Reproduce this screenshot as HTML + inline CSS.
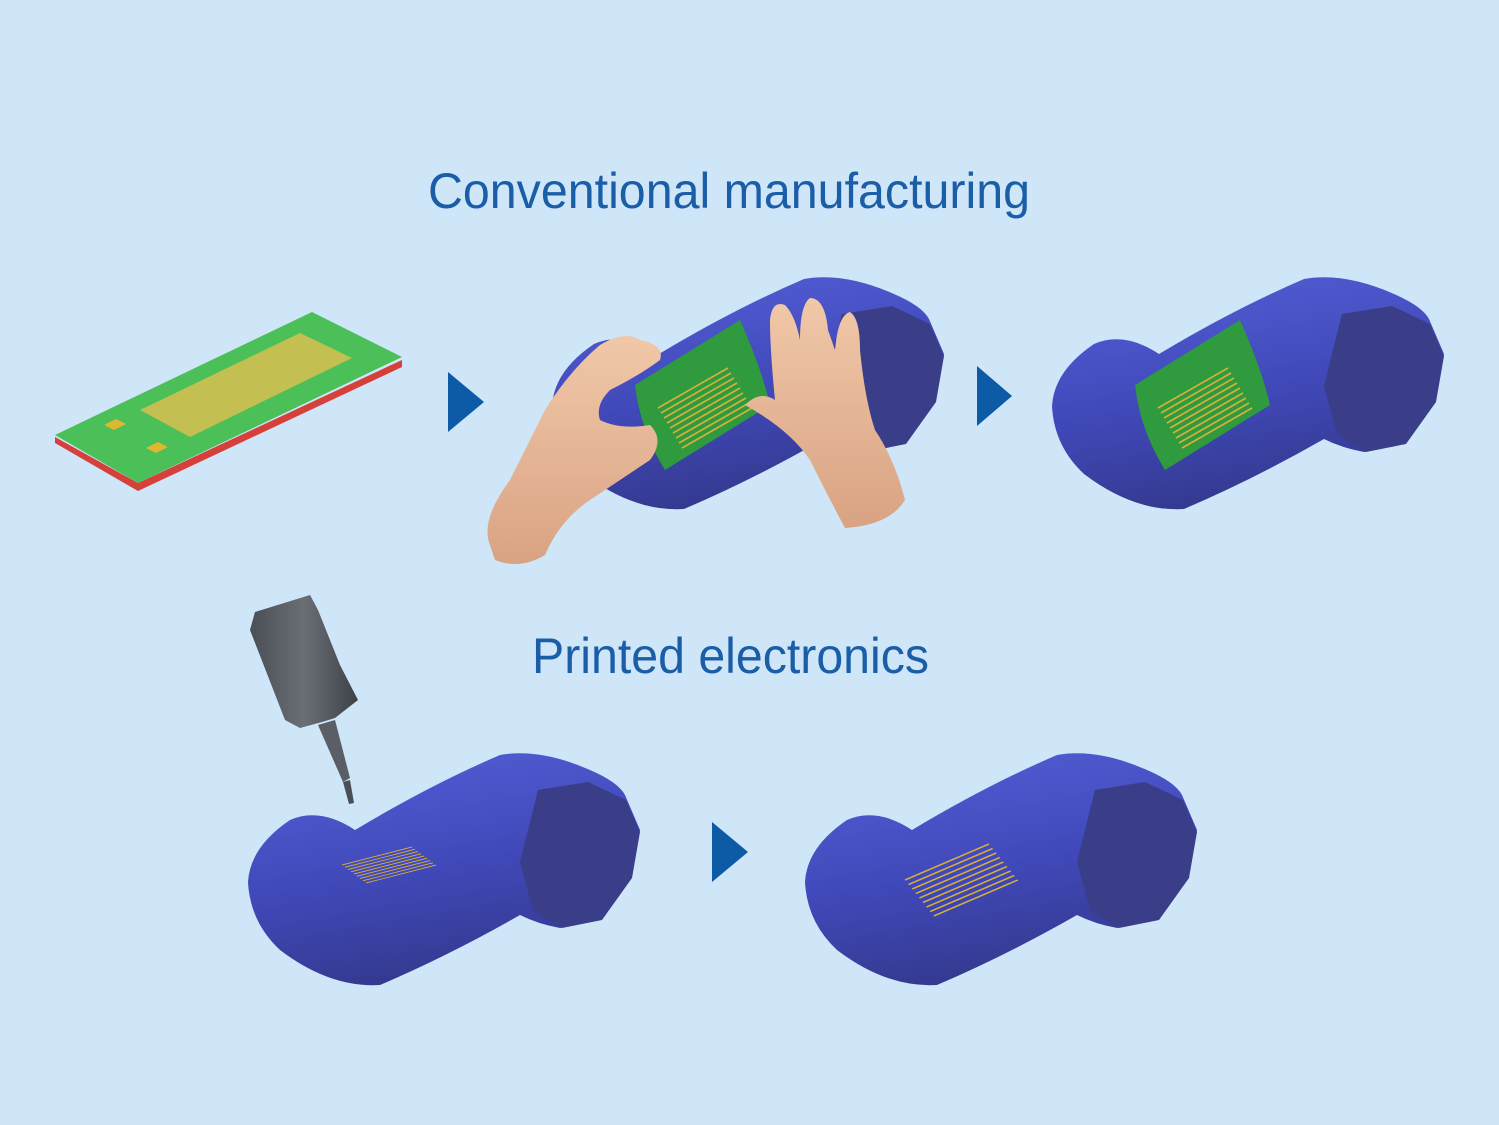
<!DOCTYPE html>
<html><head><meta charset="utf-8"><style>
html,body{margin:0;padding:0;background:#cfe5f8;}
svg{display:block}
</style></head><body>
<svg width="1499" height="1125" viewBox="0 0 1499 1125" xmlns="http://www.w3.org/2000/svg">
<defs>
<linearGradient id="pg" x1="0" y1="0" x2="0.3" y2="1">
<stop offset="0" stop-color="#5560d8"/><stop offset="0.6" stop-color="#4048b8"/><stop offset="1" stop-color="#343a90"/>
</linearGradient>
<linearGradient id="sk" x1="0" y1="0" x2="0" y2="1">
<stop offset="0" stop-color="#f0c8a8"/><stop offset="1" stop-color="#d9a383"/>
</linearGradient>
<linearGradient id="noz" x1="0" y1="0" x2="1" y2="0">
<stop offset="0" stop-color="#4a4e55"/><stop offset="0.5" stop-color="#6a6e75"/><stop offset="1" stop-color="#3e4248"/>
</linearGradient>
<g id="pipe">
<path d="M42,68 Q72,55 107,78 Q182,33 252,3 Q292,-4 342,18 Q370,30 377,43 L392,78 L382,128 L352,168 L312,176 Q290,172 272,163 Q202,203 132,233 Q82,236 32,198 Q2,170 0,130 Q2,95 42,68 Z" fill="url(#pg)"/>
<path d="M290,38 L340,30 L378,48 L392,80 L384,126 L354,168 L314,176 L285,158 L272,110 Z" fill="#3a3d88"/>
</g>
<g id="zz">
<path d="M0,0 l70,-40 M3,5 l70,-40 M6,10 l70,-40 M9,15 l70,-40 M12,20 l70,-40 M15,25 l70,-40 M18,30 l70,-40 M21,35 l70,-40 M24,40 l70,-40" stroke="#d8b03a" stroke-width="1.6" fill="none"/>
</g>
</defs>
<rect width="1499" height="1125" fill="#cfe5f8"/>

<text x="428" y="208" font-family="Liberation Sans, sans-serif" font-size="50" fill="#1a5ea8" textLength="602" lengthAdjust="spacingAndGlyphs">Conventional manufacturing</text>
<text x="532" y="673" font-family="Liberation Sans, sans-serif" font-size="50" fill="#1a5ea8" textLength="397" lengthAdjust="spacingAndGlyphs">Printed electronics</text>

<!-- board -->
<polygon points="55,437 138,483 402,360 402,367 138,491 55,443" fill="#d6403a"/>
<polygon points="55,435 312,312 402,357 138,483" fill="#4bbf58"/>
<polygon points="140,410 300,333 352,358 190,437" fill="#d8c050" opacity="0.85"/>
<polygon points="104,425 116,419 126,424 114,430" fill="#e0b830"/>
<polygon points="146,448 158,442 168,447 156,453" fill="#e0b830"/>

<!-- arrows -->
<polygon points="448,372 484,402 448,432" fill="#0d5aa6"/>
<polygon points="977,366 1012,396 977,426" fill="#0d5aa6"/>
<polygon points="712,822 748,852 712,882" fill="#0d5aa6"/>

<!-- top-right pipe -->
<use href="#pipe" x="1052" y="276"/>
<path d="M1135,385 L1240,320 Q1262,370 1270,405 L1165,470 Q1140,430 1135,385 Z" fill="#2f9a3e"/>
<use href="#zz" x="1158" y="408"/>

<!-- middle pipe -->
<use href="#pipe" x="552" y="276"/>
<path d="M635,385 L740,320 Q762,370 770,405 L665,470 Q640,430 635,385 Z" fill="#2f9a3e"/>
<use href="#zz" x="658" y="408"/>

<!-- left hand -->
<path d="M490,545 Q480,520 510,480 Q530,440 545,410 Q570,370 600,345 Q625,330 640,340 Q665,345 660,360 Q640,375 610,390 Q595,405 600,420 Q620,430 650,425 Q665,440 650,460 Q620,480 590,500 Q560,520 545,555 Q520,570 495,560 Z" fill="url(#sk)"/>
<!-- right hand -->
<path d="M745,405 Q760,390 775,400 Q770,350 770,320 Q772,300 785,305 Q795,315 800,340 Q800,305 810,298 Q825,298 828,330 L835,350 Q838,315 850,312 Q860,318 860,350 Q865,400 875,430 Q895,460 905,500 Q890,525 845,528 Q830,500 810,460 Q790,430 745,405 Z" fill="url(#sk)"/>

<!-- bottom pipes -->
<use href="#pipe" x="248" y="752"/>
<g transform="translate(342,865) scale(1,0.45)"><use href="#zz"/></g>
<use href="#pipe" x="805" y="752"/>
<g transform="translate(905,880) scale(1.2,0.9)"><use href="#zz"/></g>

<!-- nozzle -->
<polygon points="255,612 310,595 318,610 340,665 358,700 335,718 322,722 300,728 285,720 250,630" fill="url(#noz)"/>
<polygon points="318,725 335,720 350,778 343,782" fill="#5a5e65"/>
<polygon points="343,782 350,780 354,803 349,804" fill="#4a4e55"/>
</svg>
</body></html>
